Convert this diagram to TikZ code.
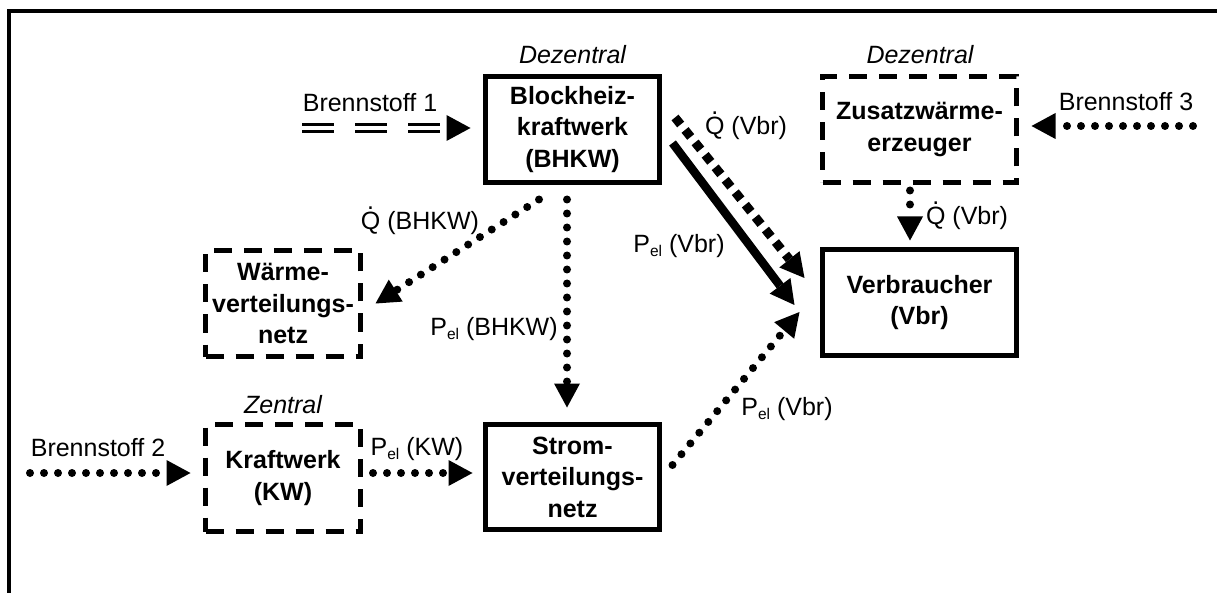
\documentclass[tikz,border=0pt]{standalone}
\usepackage{fontspec}
\setmainfont{Liberation Sans}
\usetikzlibrary{arrows.meta,calc}
\newcommand\Qd{\leavevmode\hbox{\ooalign{Q\cr\hidewidth\raisebox{0.8em}{.}\hidewidth\cr}}}
\newcommand\Pel{P\raisebox{-4pt}{\fontsize{15.5}{16}\selectfont el}}
\begin{document}
\begin{tikzpicture}[x=1pt,y=-1pt,
  txt/.style={font=\fontsize{25}{31.5}\selectfont, inner sep=0pt, anchor=base},
  itxt/.style={txt, font=\fontsize{25}{31.5}\selectfont\itshape},
  boxtxt/.style={font=\fontsize{25}{31.5}\selectfont\bfseries, align=center, inner sep=0pt, line width=5pt, draw},
  solidbox/.style={boxtxt},
  dashbox/.style={boxtxt, dash pattern=on 18pt off 12pt},
  tipped/.style={-{Triangle[length=24pt,width=26pt,line width=0pt]}},
  dotline/.style={tipped, line width=8pt, line cap=round, dash pattern=on 0pt off 14pt},
  sqline/.style={tipped, line width=9pt, dash pattern=on 9pt off 7pt},
  thickline/.style={tipped, line width=8.5pt},
  dblline/.style={double, line width=3.5pt, double distance=3.5pt, dash pattern=on 32pt off 21pt}
]
\useasboundingbox (0,0) rectangle (1217,593);
% frame
\draw[line width=4pt] (9,593) -- (9,11.5) -- (1217,11.5);

% boxes
\node[solidbox, minimum width=174pt, minimum height=106pt] (bhkw) at (572.5,129.5) {Blockheiz-\\kraftwerk\\(BHKW)};
\node[dashbox, minimum width=194pt, minimum height=106pt] (zus) at (919.5,129.5) {Zusatzwärme-\\erzeuger};
\node[solidbox, minimum width=194pt, minimum height=106pt] (vbr) at (919.5,302.5) {Verbraucher\\(Vbr)};
\node[dashbox, minimum width=155pt, minimum height=106pt] (waerme) at (283,303.5) {Wärme-\\verteilungs-\\netz};
\node[dashbox, minimum width=155pt, minimum height=107pt] (kw) at (283,478) {Kraftwerk\\(KW)};
\node[solidbox, minimum width=174pt, minimum height=105pt] (strom) at (572.5,477) {Strom-\\verteilungs-\\netz};

% labels
\node[itxt] (dz1) at (572.5,64) {Dezentral};
\node[itxt] (dz2) at (920,64) {Dezentral};
\node[itxt] (zen) at (283,413) {Zentral};
\node[txt] (bs1) at (370,112) {Brennstoff 1};
\node[txt] (bs3) at (1126,111) {Brennstoff 3};
\node[txt] (bs2) at (98,456) {Brennstoff 2};
\node[txt] (q1) at (746,135) {\Qd{} (Vbr)};
\node[txt] (pelv1) at (679,253) {\Pel{} (Vbr)};
\node[txt] (qb) at (420,230) {\Qd{} (BHKW)};
\node[txt] (pelb) at (494,335) {\Pel{} (BHKW)};
\node[txt] (q2) at (967,225) {\Qd{} (Vbr)};
\node[txt] (pelkw) at (417,455) {\Pel{} (KW)};
\node[txt] (pelv2) at (787,415) {\Pel{} (Vbr)};

% free ends
\coordinate (b1s) at (302,128);
\coordinate (b1e) at (449,128);
\coordinate (b3s) at (1193,126);
\coordinate (b2s) at (30,473);

% Brennstoff 1 (double dashed)
\draw[dblline] (b1s) -- (b1e);
\draw[tipped, line width=0.1pt] (b1e) -- ($(bhkw.west)+(-12.5,-1.5)$);
% Brennstoff 3
\draw[dotline] (b3s) -- ($(zus.east)+(12.5,-3.5)$);
% Zusatz -> Verbraucher
\draw[dotline] ($(zus.south)+(-9.5,5.5)$) -- ($(vbr.north)+(-9.5,-6.5)$);
% BHKW -> Waerme
\draw[dotline] ($(bhkw.south)+(-33.5,14.5)$) -- ($(waerme.east)+(12.5,0)$);
% BHKW -> Strom
\draw[dotline] ($(bhkw.south)+(-5.5,14.5)$) -- ($(strom.north)+(-5.5,-14.5)$);
% Brennstoff 2
\draw[dotline] (b2s) -- ($(kw.west)+(-12.5,-5)$);
% KW -> Strom
\draw[dotline] ($(kw.east)+(10,-5)$) -- ($(strom.west)+(-10.5,-4)$);
% Strom -> Vbr
\draw[dotline] ($(strom.east)+(10.5,-12)$) -- ($(vbr.west)+(-20.5,9.5)$);
% BHKW -> Vbr (solid)
\draw[thickline] ($(bhkw.east)+(10.5,13.5)$) -- ($(vbr.west)+(-25.5,2.5)$);
% BHKW -> Vbr (square dots)
\draw[sqline] ($(bhkw.east)+(13,-12)$) -- ($(vbr.west)+(-15.5,-24.5)$);
\end{tikzpicture}
\end{document}
